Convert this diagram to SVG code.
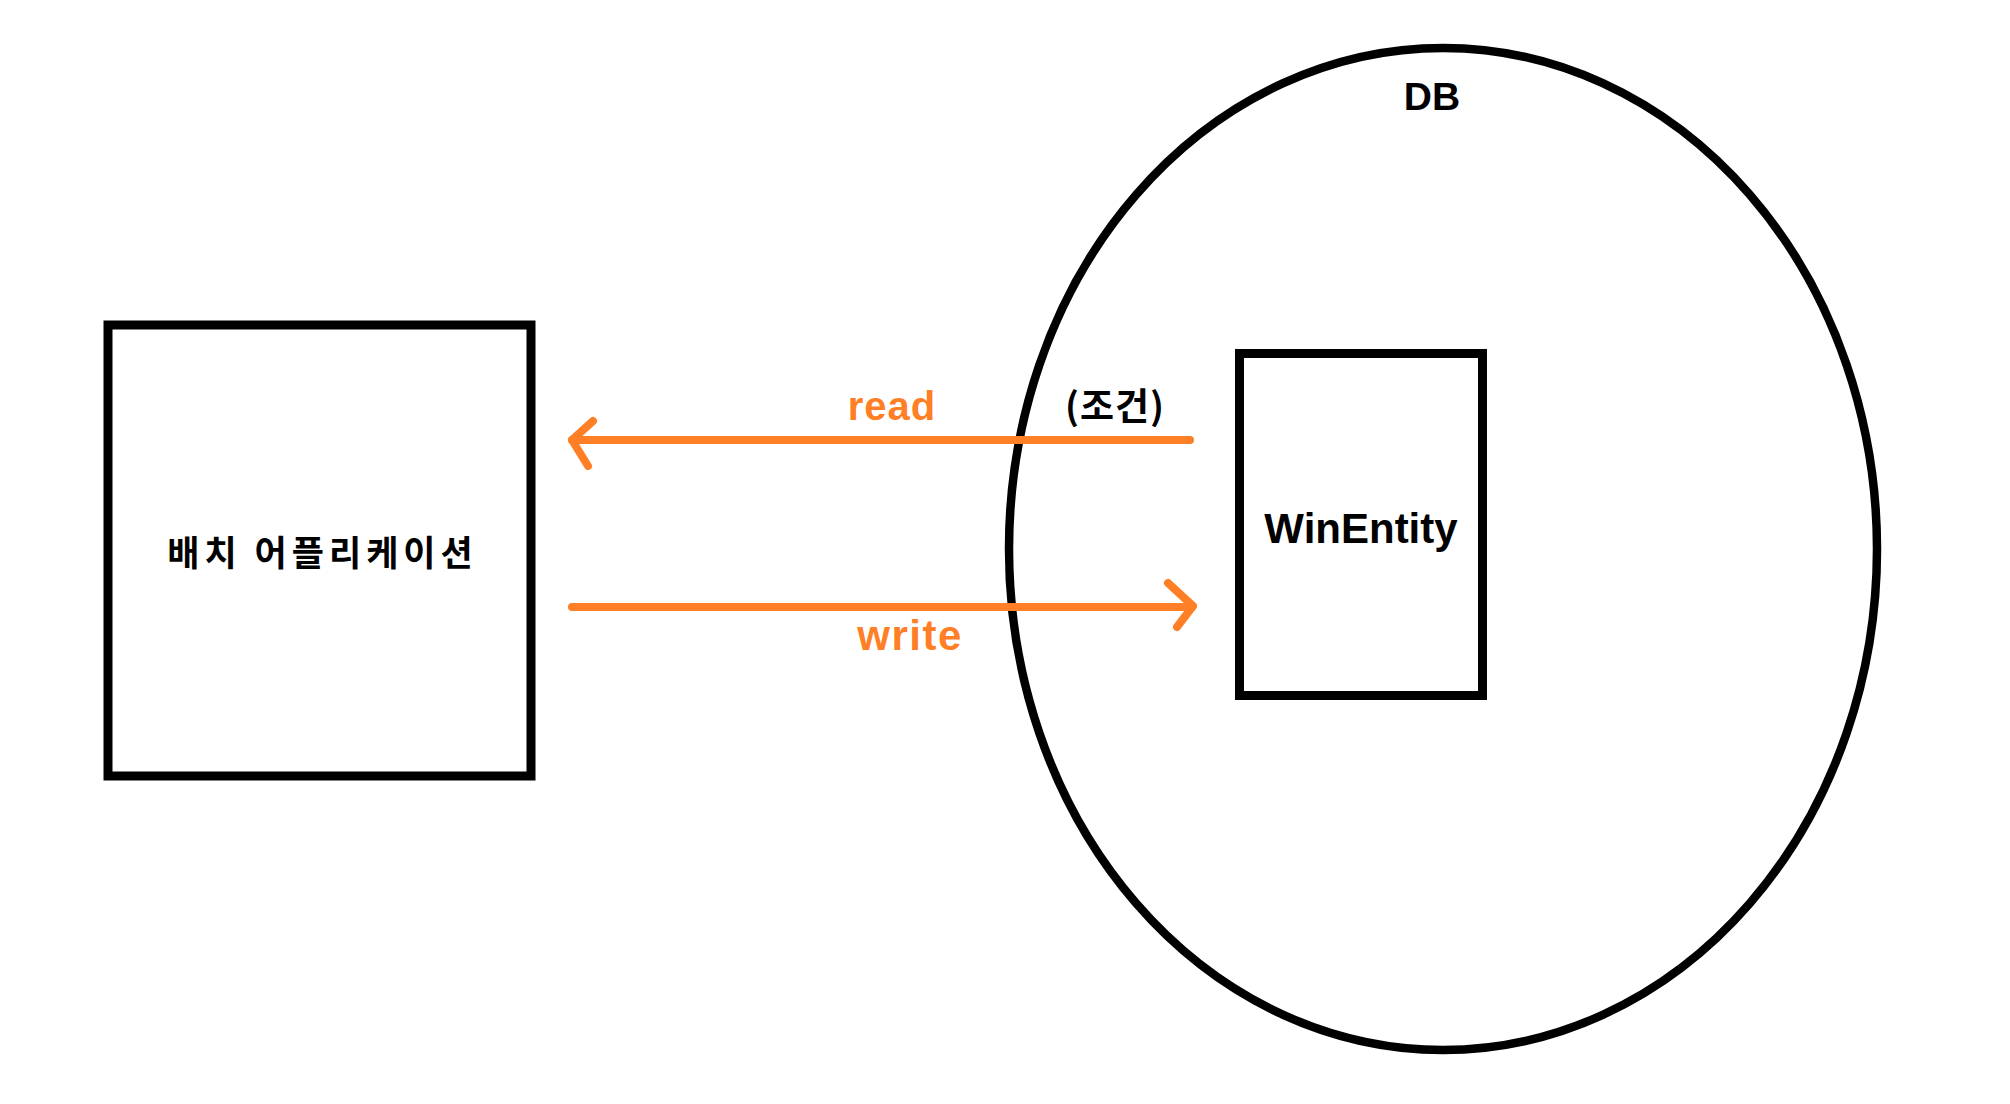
<svg xmlns="http://www.w3.org/2000/svg" width="2010" height="1104" viewBox="0 0 2010 1104">
  <style>
    .box { fill: #ffffff; stroke: #000000; stroke-width: 9; }
    .db { fill: none; stroke: #000000; stroke-width: 8.5; }
    .conn { fill: none; stroke: #FF7F27; stroke-width: 8; stroke-linecap: round; stroke-linejoin: round; }
    .lbl { font-family: "Liberation Sans", Arial, sans-serif; font-weight: bold; fill: #000000; text-anchor: middle; }
    .olbl { font-family: "Liberation Sans", Arial, sans-serif; font-weight: bold; fill: #FF7F27; text-anchor: middle; }
    .kr { font-family: "Noto Sans CJK KR", "Noto Sans", sans-serif; fill: #000000; text-anchor: middle; }
  </style>
  <rect width="2010" height="1104" fill="#ffffff"/>
  <g id="db">
    <ellipse class="db" cx="1443" cy="549" rx="434" ry="501"/>
    <text class="lbl" x="1432" y="110" font-size="39">DB</text>
  </g>
  <g id="batch-app">
    <rect class="box" x="108" y="325" width="423" height="451"/>
    <text class="kr" x="322.5" y="566" font-size="35" font-weight="bold" letter-spacing="5">배치 어플리케이션</text>
  </g>
  <g id="win-entity">
    <rect class="box" x="1239.5" y="353.5" width="243" height="342"/>
    <text class="lbl" x="1361" y="543" font-size="42">WinEntity</text>
  </g>
  <g id="connectors">
    <g id="read">
      <line class="conn" x1="1190" y1="440" x2="572" y2="440"/>
      <polyline class="conn" points="593,421 572,440 588,466"/>
      <text class="olbl" x="892" y="420" font-size="40" letter-spacing="1">read</text>
      <text class="kr" x="1115" y="420" font-size="37" font-weight="bold" letter-spacing="1">(조건)</text>
    </g>
    <g id="write">
      <line class="conn" x1="572" y1="607" x2="1192" y2="607"/>
      <polyline class="conn" points="1168,583 1193,606 1177,627"/>
      <text class="olbl" x="910" y="650" font-size="42" letter-spacing="1.5">write</text>
    </g>
  </g>
</svg>
